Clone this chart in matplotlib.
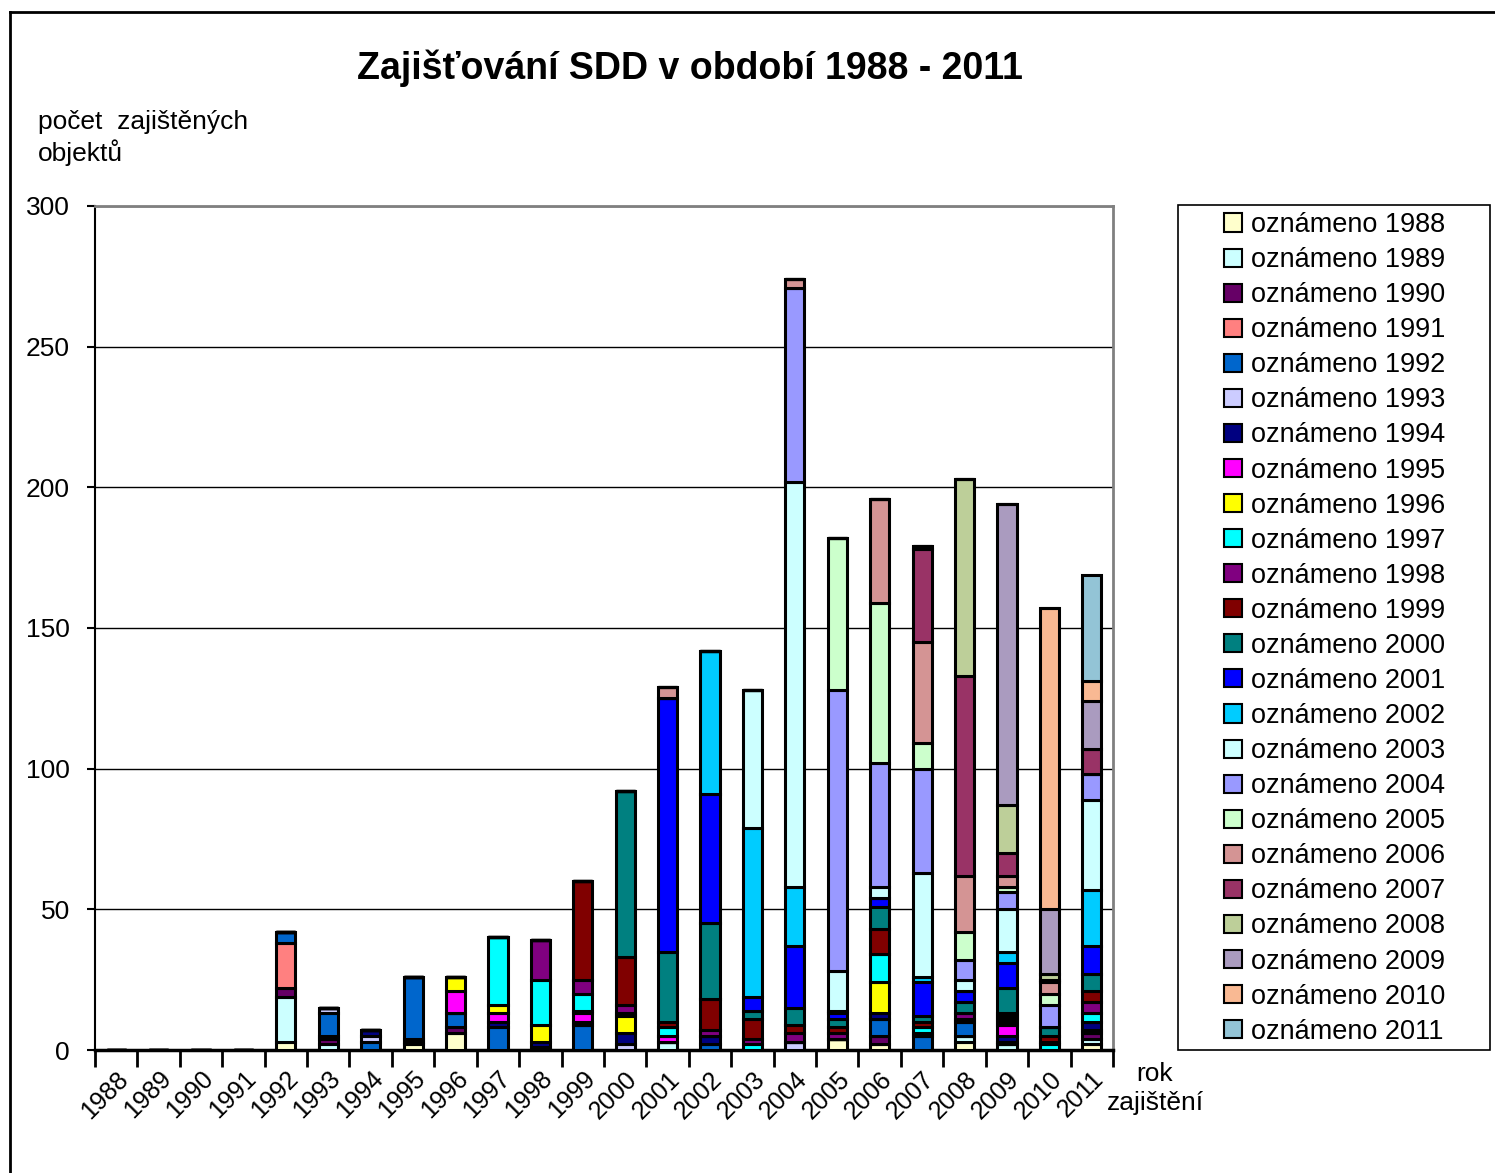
# Zajišťování SDD v období 1988 - 2011 - stacked bars by year of report

import numpy as np
import matplotlib
matplotlib.use('Agg')
import matplotlib.pyplot as plt
from matplotlib.patches import Patch, Rectangle
from matplotlib.lines import Line2D

plt.rcParams['font.family'] = ['Liberation Sans', 'DejaVu Sans']

years = list(range(1988, 2012))
year_labels = [str(y) for y in years]

# počet zajištěných objektů, one list per "oznámeno" year, across rok zajištění 1988..2011
s1988 = [0, 0, 0, 0, 3, 0, 0, 2, 6, 0, 0, 0, 0, 0, 0, 0, 0, 4, 2, 0, 3, 0, 0, 2]
s1989 = [0, 0, 0, 0, 16, 2, 0, 1, 0, 0, 0, 0, 0, 3, 0, 0, 0, 0, 0, 0, 2, 2, 0, 2]
s1990 = [0, 0, 0, 0, 3, 2, 0, 1, 2, 0, 0, 0, 0, 0, 0, 0, 0, 0, 3, 0, 0, 0, 0, 2]
s1991 = [0, 0, 0, 0, 16, 1, 0, 0, 0, 0, 0, 0, 0, 0, 0, 0, 0, 0, 0, 0, 0, 0, 0, 0]
s1992 = [0, 0, 0, 0, 4, 8, 3, 22, 5, 8, 1, 9, 0, 0, 2, 0, 0, 0, 6, 5, 5, 1, 0, 1]
s1993 = [0, 0, 0, 0, 0, 2, 2, 0, 0, 0, 0, 0, 2, 0, 0, 0, 3, 0, 0, 0, 0, 0, 0, 0]
s1994 = [0, 0, 0, 0, 0, 0, 2, 0, 0, 2, 2, 1, 4, 0, 3, 0, 0, 0, 2, 1, 1, 2, 0, 3]
s1995 = [0, 0, 0, 0, 0, 0, 0, 0, 8, 3, 0, 3, 0, 2, 0, 0, 0, 0, 0, 0, 0, 4, 0, 0]
s1996 = [0, 0, 0, 0, 0, 0, 0, 0, 5, 3, 6, 1, 6, 0, 0, 0, 0, 0, 11, 0, 0, 1, 0, 0]
s1997 = [0, 0, 0, 0, 0, 0, 0, 0, 0, 24, 16, 6, 1, 3, 0, 2, 0, 0, 10, 2, 0, 1, 2, 3]
s1998 = [0, 0, 0, 0, 0, 0, 0, 0, 0, 0, 14, 5, 3, 0, 2, 2, 3, 2, 0, 0, 2, 1, 1, 4]
s1999 = [0, 0, 0, 0, 0, 0, 0, 0, 0, 0, 0, 35, 17, 2, 11, 7, 3, 2, 9, 2, 0, 1, 2, 4]
s2000 = [0, 0, 0, 0, 0, 0, 0, 0, 0, 0, 0, 0, 59, 25, 27, 3, 6, 3, 8, 2, 4, 9, 3, 6]
s2001 = [0, 0, 0, 0, 0, 0, 0, 0, 0, 0, 0, 0, 0, 90, 46, 5, 22, 2, 3, 12, 4, 9, 0, 10]
s2002 = [0, 0, 0, 0, 0, 0, 0, 0, 0, 0, 0, 0, 0, 0, 51, 60, 21, 1, 0, 2, 0, 4, 0, 20]
s2003 = [0, 0, 0, 0, 0, 0, 0, 0, 0, 0, 0, 0, 0, 0, 0, 49, 144, 14, 4, 37, 4, 15, 0, 32]
s2004 = [0, 0, 0, 0, 0, 0, 0, 0, 0, 0, 0, 0, 0, 0, 0, 0, 69, 100, 44, 37, 7, 6, 8, 9]
s2005 = [0, 0, 0, 0, 0, 0, 0, 0, 0, 0, 0, 0, 0, 0, 0, 0, 0, 54, 57, 9, 10, 2, 4, 0]
s2006 = [0, 0, 0, 0, 0, 0, 0, 0, 0, 0, 0, 0, 0, 4, 0, 0, 3, 0, 37, 36, 20, 4, 4, 0]
s2007 = [0, 0, 0, 0, 0, 0, 0, 0, 0, 0, 0, 0, 0, 0, 0, 0, 0, 0, 0, 33, 71, 8, 1, 9]
s2008 = [0, 0, 0, 0, 0, 0, 0, 0, 0, 0, 0, 0, 0, 0, 0, 0, 0, 0, 0, 1, 70, 17, 2, 0]
s2009 = [0, 0, 0, 0, 0, 0, 0, 0, 0, 0, 0, 0, 0, 0, 0, 0, 0, 0, 0, 0, 0, 107, 23, 17]
s2010 = [0, 0, 0, 0, 0, 0, 0, 0, 0, 0, 0, 0, 0, 0, 0, 0, 0, 0, 0, 0, 0, 0, 107, 7]
s2011 = [0, 0, 0, 0, 0, 0, 0, 0, 0, 0, 0, 0, 0, 0, 0, 0, 0, 0, 0, 0, 0, 0, 0, 38]

series = [s1988, s1989, s1990, s1991, s1992, s1993, s1994, s1995, s1996, s1997,
          s1998, s1999, s2000, s2001, s2002, s2003, s2004, s2005, s2006, s2007,
          s2008, s2009, s2010, s2011]
labels = ['oznámeno %d' % y for y in years]
colors = ['#FFFFCC', '#CCFFFF', '#660066', '#FF8080', '#0066CC', '#CCCCFF',
          '#000080', '#FF00FF', '#FFFF00', '#00FFFF', '#800080', '#800000',
          '#008080', '#0000FF', '#00CCFF', '#CCFFFF', '#9999FF', '#CCFFCC',
          '#D49494', '#993366', '#BDCF99', '#AA9BBF', '#F9B993', '#93C4D6']

W, H = 1495, 1173
fig = plt.figure(figsize=(W / 100, H / 100), dpi=100)

# outer frame of the picture
fig.add_artist(Line2D([10 / W, 10 / W], [0, 1 - 12 / H], color='black', lw=2))
fig.add_artist(Line2D([10 / W, 1], [1 - 12 / H, 1 - 12 / H], color='black', lw=2))

ax = fig.add_axes([95 / W, 1 - 1050 / H, (1113 - 95) / W, (1050 - 206) / H])

x = np.arange(len(years))
bottom = np.zeros(len(years))
for vals, col, lab in zip(series, colors, labels):
    vals = np.array(vals, dtype=float)
    ax.bar(x, vals, 0.45, bottom=bottom, color=col, edgecolor='black',
           linewidth=2.2, label=lab, zorder=3)
    bottom += vals

ax.set_xlim(-0.5, len(years) - 0.5)
ax.set_ylim(0, 300)
ax.set_yticks(range(0, 301, 50))
ax.yaxis.grid(True, color='black', lw=1)
ax.set_axisbelow(True)
ax.tick_params(axis='y', labelsize=19, length=6, width=1.5, direction='out', pad=12)

ax.set_xticks(x)
ax.set_xticklabels(year_labels, rotation=45, ha='right', va='top',
                   rotation_mode='anchor', fontsize=18)
ax.tick_params(axis='x', which='major', length=0, pad=12)
ax.set_xticks(np.arange(-0.5, len(years), 1), minor=True)
ax.tick_params(axis='x', which='minor', length=12, width=2, direction='out')

for side in ['top', 'right']:
    ax.spines[side].set_color('#808080')
    ax.spines[side].set_linewidth(2)
ax.spines['left'].set_linewidth(1.5)
ax.spines['bottom'].set_linewidth(2.5)

fig.text(690 / W, 1 - 68 / H, 'Zajišťování SDD v období 1988 - 2011',
         ha='center', va='center', fontsize=27, fontweight='bold')
fig.text(38 / W, 1 - 110 / H, 'počet  zajištěných\nobjektů', ha='left', va='top',
         fontsize=19, linespacing=1.25)
fig.text(1155 / W, 1 - 1062 / H, 'rok\nzajištění', ha='center', va='top',
         fontsize=19, linespacing=1.25)

# legend box
fig.add_artist(Rectangle((1178 / W, 1 - 1050 / H), (1490 - 1178) / W, (1050 - 205) / H,
                         transform=fig.transFigure, fill=False, edgecolor='black', lw=1.2))
handles = [Patch(facecolor=c, edgecolor='black', lw=1.5) for c in colors]
fig.legend(handles, labels, loc='upper left', bbox_to_anchor=(1224 / W, 1 - 212 / H),
           frameon=False, fontsize=19.5, handlelength=0.65, handleheight=0.65,
           handletextpad=0.35, labelspacing=0.335, borderpad=0, borderaxespad=0)

fig.savefig('out.png', dpi=100)
